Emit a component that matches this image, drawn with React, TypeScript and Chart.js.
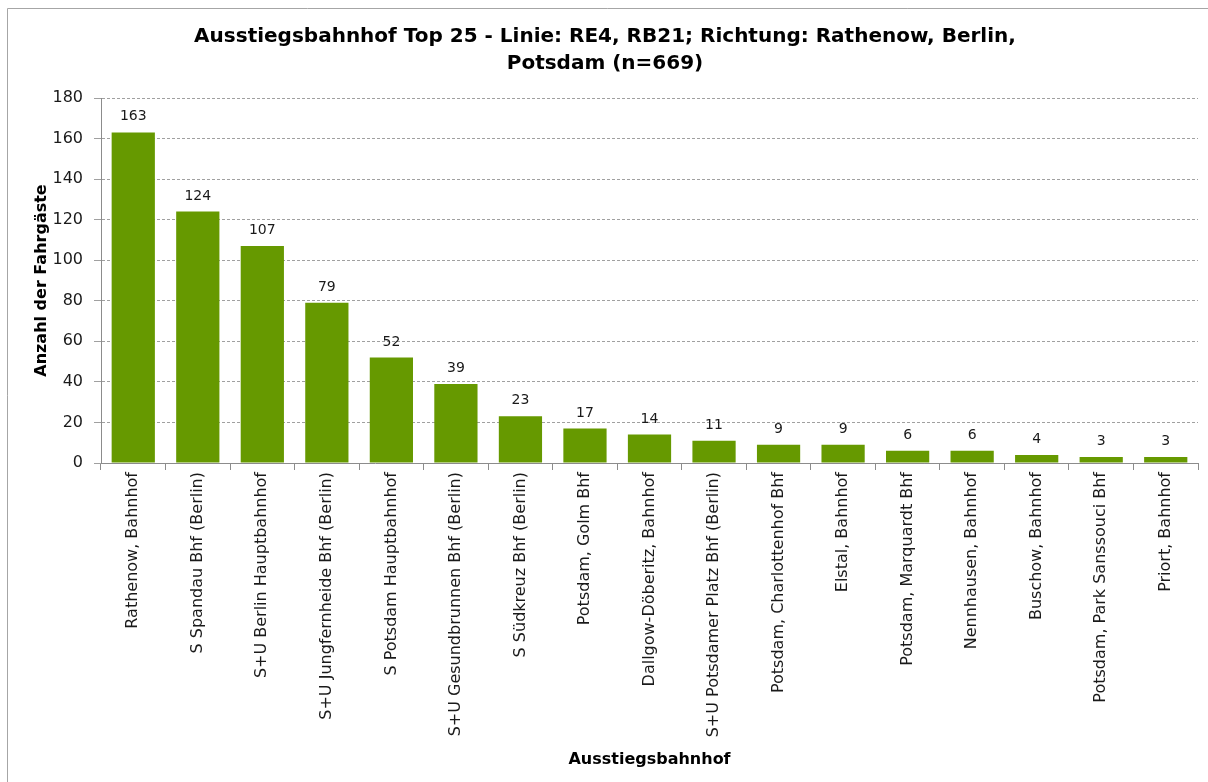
import React, { useEffect, useRef } from "react";
import { Chart, registerables } from "chart.js";

Chart.register(...registerables);

const stations: string[] = [
  "Rathenow, Bahnhof",
  "S Spandau Bhf (Berlin)",
  "S+U Berlin Hauptbahnhof",
  "S+U Jungfernheide Bhf (Berlin)",
  "S Potsdam Hauptbahnhof",
  "S+U Gesundbrunnen Bhf (Berlin)",
  "S Südkreuz Bhf (Berlin)",
  "Potsdam, Golm Bhf",
  "Dallgow-Döberitz, Bahnhof",
  "S+U Potsdamer Platz Bhf (Berlin)",
  "Potsdam, Charlottenhof Bhf",
  "Elstal, Bahnhof",
  "Potsdam, Marquardt Bhf",
  "Nennhausen, Bahnhof",
  "Buschow, Bahnhof",
  "Potsdam, Park Sanssouci Bhf",
  "Priort, Bahnhof",
];
const passengers: number[] = [163, 124, 107, 79, 52, 39, 23, 17, 14, 11, 9, 9, 6, 6, 4, 3, 3];
const titleLines: string[] = [
  "Ausstiegsbahnhof Top 25 - Linie: RE4, RB21; Richtung: Rathenow, Berlin,",
  "Potsdam (n=669)",
];
const yAxisTitle = "Anzahl der Fahrgäste";
const xAxisTitle = "Ausstiegsbahnhof";

const FONT = "'DejaVu Sans', sans-serif";

const decorPlugin = {
  id: "decor",
  afterDatasetsDraw(chart: any) {
    const ctx = chart.ctx;
    const area = chart.chartArea;
    ctx.save();
    // border
    ctx.strokeStyle = "#a6a6a6";
    ctx.lineWidth = 1;
    ctx.beginPath();
    ctx.moveTo(7.5, chart.height);
    ctx.lineTo(7.5, 8.5);
    ctx.lineTo(chart.width, 8.5);
    ctx.stroke();
    // title
    ctx.fillStyle = "#000";
    ctx.font = `bold 20px ${FONT}`;
    ctx.textAlign = "center";
    ctx.textBaseline = "middle";
    const cx = 605;
    ctx.fillText(titleLines[0], cx, 37);
    ctx.fillText(titleLines[1], cx, 64);
    // y axis title
    ctx.font = `bold 16px ${FONT}`;
    ctx.save();
    ctx.translate(42, (area.top + area.bottom) / 2);
    ctx.rotate(-Math.PI / 2);
    ctx.fillText(yAxisTitle, 0, 0);
    ctx.restore();
    // x axis title
    ctx.fillText(xAxisTitle, (area.left + area.right) / 2, 760);
    // data labels
    const meta = chart.getDatasetMeta(0);
    ctx.font = `14px ${FONT}`;
    ctx.fillStyle = "#1a1a1a";
    ctx.textBaseline = "alphabetic";
    meta.data.forEach((bar: any, i: number) => {
      ctx.fillText(String(passengers[i]), bar.x, bar.y - 12);
    });
    ctx.restore();
  },
};

export default function App() {
  const ref = useRef<HTMLCanvasElement | null>(null);
  useEffect(() => {
    document.body.style.margin = "0";
    if (!ref.current) return;
    const chart = new Chart(ref.current, {
      type: "bar",
      data: {
        labels: stations,
        datasets: [
          {
            data: passengers,
            backgroundColor: "#669900",
            borderWidth: 0,
            barPercentage: 0.67,
            categoryPercentage: 1,
          },
        ],
      },
      options: {
        animation: false,
        responsive: false,
        maintainAspectRatio: false,
        devicePixelRatio: 1,
        layout: { padding: { top: 98, right: 10, bottom: 0, left: 0 } },
        plugins: {
          legend: { display: false },
          title: { display: false },
          tooltip: { enabled: false },
        },
        scales: {
          x: {
            afterFit(scale: any) {
              scale.height = 782 - 463;
            },
            grid: {
              display: true,
              drawOnChartArea: false,
              drawTicks: true,
              tickLength: 7,
              color: "#8c8c8c",
              offset: true,
            },
            border: { display: true, color: "#8c8c8c" },
            ticks: {
              autoSkip: false,
              minRotation: 90,
              maxRotation: 90,
              padding: 2,
              color: "#1a1a1a",
              font: { family: FONT, size: 16 },
            },
          },
          y: {
            min: 0,
            max: 180,
            afterFit(scale: any) {
              scale.width = 101;
            },
            ticks: {
              stepSize: 20,
              padding: 11,
              color: "#1a1a1a",
              font: { family: FONT, size: 16 },
            },
            grid: {
              color: "#a0a0a0",
              tickLength: 7,
              drawTicks: true,
            },
            border: { display: true, color: "#8c8c8c", dash: [3, 2] } as any,
          },
        },
      },
      plugins: [decorPlugin],
    });
    return () => chart.destroy();
  }, []);
  return (
    <div style={{ width: 1208, height: 782, background: "#fff" }}>
      <canvas ref={ref} width={1208} height={782} style={{ display: "block" }} />
    </div>
  );
}
